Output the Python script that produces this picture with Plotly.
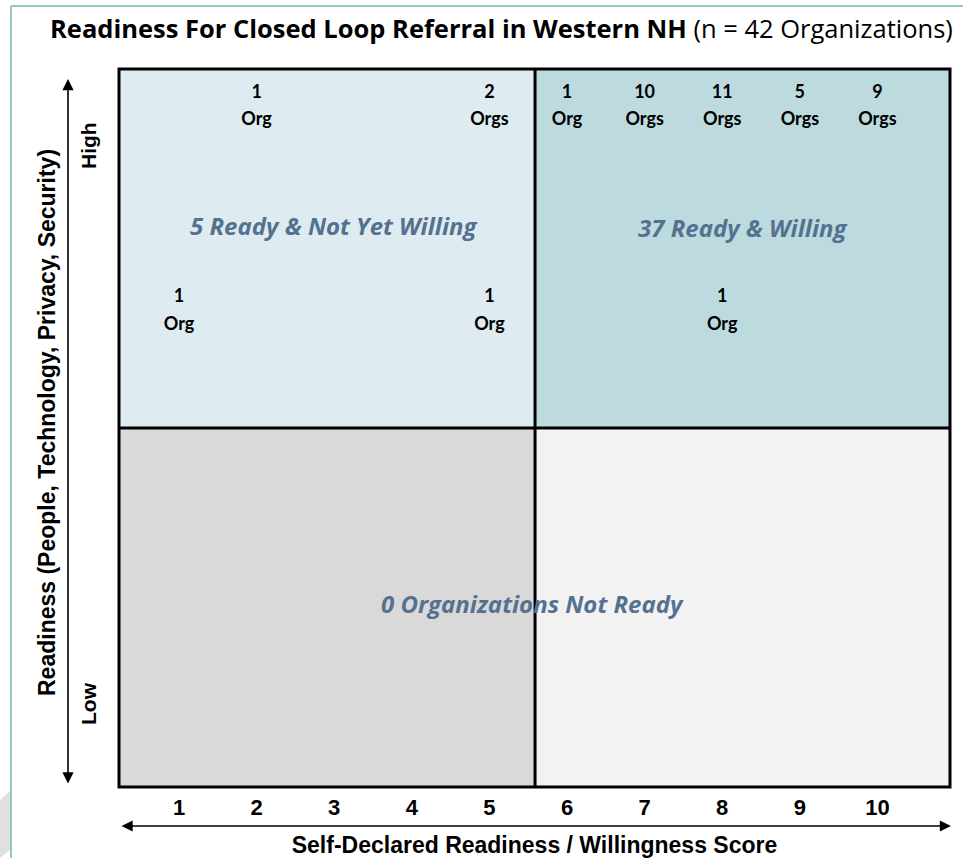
import plotly.graph_objects as go

# ---- data ----
scores = [1, 2, 3, 4, 5, 6, 7, 8, 9, 10]
tick_labels = [str(s) for s in scores]

high_scores = [2, 5, 6, 7, 8, 9, 10]
high_counts = [1, 2, 1, 10, 11, 5, 9]
high_readiness = [0.947, 0.947, 0.947, 0.947, 0.947, 0.947, 0.947]

mid_scores = [1, 5, 8]
mid_counts = [1, 1, 1]
mid_readiness = [0.662, 0.662, 0.662]

quadrant_labels = ["5 Ready & Not Yet Willing", "37 Ready & Willing", "0 Organizations Not Ready"]

# ---- geometry ----
X_MIN, X_MAX = 0.2268, 10.935
X_SPLIT = 5.588
Y_SPLIT = 0.5

all_scores = high_scores + mid_scores
all_counts = high_counts + mid_counts
all_ready = high_readiness + mid_readiness
unit_text = ["Org" if c == 1 else "Orgs" for c in all_counts]

LABEL_FONT = dict(family="Lato, Calibri, sans-serif", size=18, color="black")
ARIAL_B = "Arial, Liberation Sans, sans-serif"

fig = go.Figure()
fig.add_trace(go.Scatter(
    x=all_scores, y=all_ready, mode="markers+text",
    marker=dict(size=6, opacity=0),
    text=[f"<b>{c}</b>" for c in all_counts],
    textposition="top center", textfont=LABEL_FONT,
    hoverinfo="skip", showlegend=False))
fig.add_trace(go.Scatter(
    x=all_scores, y=all_ready, mode="markers+text",
    marker=dict(size=6, opacity=0),
    text=[f"<b>{u}</b>" for u in unit_text],
    textposition="bottom center", textfont=LABEL_FONT,
    hoverinfo="skip", showlegend=False))

quad_fill = [
    (X_MIN, X_SPLIT, Y_SPLIT, 1, "#deebf0"),
    (X_SPLIT, X_MAX, Y_SPLIT, 1, "#bddbde"),
    (X_MIN, X_SPLIT, 0, Y_SPLIT, "#d9d9d9"),
    (X_SPLIT, X_MAX, 0, Y_SPLIT, "#f2f2f2"),
]
shapes = []
for x0, x1, y0, y1, col in quad_fill:
    shapes.append(dict(type="rect", xref="x", yref="y", x0=x0, x1=x1, y0=y0, y1=y1,
                       fillcolor=col, line=dict(width=0), layer="below"))
# dividers
shapes.append(dict(type="line", xref="x", yref="y", x0=X_SPLIT, x1=X_SPLIT, y0=0, y1=1,
                   line=dict(color="black", width=3)))
shapes.append(dict(type="line", xref="x", yref="y", x0=X_MIN, x1=X_MAX, y0=Y_SPLIT, y1=Y_SPLIT,
                   line=dict(color="black", width=3)))
# border
shapes.append(dict(type="rect", xref="paper", yref="paper", x0=0, x1=1, y0=0, y1=1,
                   line=dict(color="black", width=3)))
# slide frame (green lines)
W, H, L, T, PW, PH = 963, 858, 119, 69, 831, 718
def px(xp): return (xp - L) / PW
def py(yp): return (T + PH - yp) / PH
shapes.append(dict(type="line", xref="paper", yref="paper", x0=px(11), x1=px(963), y0=py(6), y1=py(6),
                   line=dict(color="#6dbb9a", width=1.5)))
shapes.append(dict(type="line", xref="paper", yref="paper", x0=px(11), x1=px(11), y0=py(6), y1=py(858),
                   line=dict(color="#6dbb9a", width=1.5)))
shapes.append(dict(type="path", xref="paper", yref="paper",
                   path=f"M {px(0)},{py(800)} L {px(10)},{py(791)} L {px(10)},{py(850)} L {px(0)},{py(858)} Z",
                   fillcolor="#e0e0e0", line=dict(width=0)))

QFONT = dict(family="Open Sans, Calibri, sans-serif", size=24, color="#54718f")
annotations = [
    dict(text=f"<b><i>{quadrant_labels[0]}</i></b>", x=3.0, y=0.782, xref="x", yref="y",
         xanchor="center", yanchor="middle", showarrow=False, font=QFONT),
    dict(text=f"<b><i>{quadrant_labels[1]}</i></b>", x=(X_SPLIT + X_MAX) / 2, y=0.779, xref="x", yref="y",
         xanchor="center", yanchor="middle", showarrow=False, font=QFONT),
    dict(text=f"<b><i>{quadrant_labels[2]}</i></b>", x=X_SPLIT - 0.03, y=0.255, xref="x", yref="y",
         xanchor="center", yanchor="middle", showarrow=False, font=QFONT),
    # y axis labels
    dict(text="<b>Readiness (People, Technology, Privacy, Security)</b>", x=px(47), y=py(423),
         xref="paper", yref="paper", xanchor="center", yanchor="middle", showarrow=False, textangle=-90,
         font=dict(family=ARIAL_B, size=23, color="black")),
    dict(text="<b>High</b>", x=px(88), y=py(146), xref="paper", yref="paper",
         xanchor="center", yanchor="middle", showarrow=False,
         textangle=-90, font=dict(family=ARIAL_B, size=21, color="black")),
    dict(text="<b>Low</b>", x=px(88), y=py(704), xref="paper", yref="paper",
         xanchor="center", yanchor="middle", showarrow=False,
         textangle=-90, font=dict(family=ARIAL_B, size=21, color="black")),
    # vertical double arrow
    dict(text="", x=px(68), y=py(79), xref="paper", yref="paper", ax=0, ay=706,
         axref="pixel", ayref="pixel", showarrow=True, arrowhead=2, arrowside="end+start",
         arrowsize=1.4, arrowwidth=1.6, arrowcolor="black"),
    # horizontal double arrow
    dict(text="", x=px(951), y=py(826), xref="paper", yref="paper", ax=-831, ay=0,
         axref="pixel", ayref="pixel", showarrow=True, arrowhead=2, arrowside="end+start",
         arrowsize=1.4, arrowwidth=1.6, arrowcolor="black"),
]

fig.update_layout(
    width=W, height=H,
    margin=dict(l=L, r=W - L - PW, t=T, b=H - T - PH, autoexpand=False),
    paper_bgcolor="white", plot_bgcolor="white",
    showlegend=False,
    title=dict(text="<b>Readiness For Closed Loop Referral in Western NH</b> (n = 42 Organizations)",
               x=50 / W, xanchor="left", xref="container", y=1 - 29 / H, yref="container", yanchor="middle",
               font=dict(family="Open Sans, Calibri, sans-serif", size=25.5, color="black")),
    xaxis=dict(range=[X_MIN, X_MAX], tickvals=scores, ticktext=[f"<b>{t}</b>" for t in tick_labels],
               showgrid=False, zeroline=False, showline=False, ticks="outside", ticklen=1,
               tickcolor="rgba(0,0,0,0)", tickfont=dict(family=ARIAL_B, size=22, color="black"),
               title=dict(text="<b>Self-Declared Readiness / Willingness Score</b>", standoff=24,
                          font=dict(family=ARIAL_B, size=23, color="black")),
               automargin=False, fixedrange=True),
    yaxis=dict(range=[0, 1], showgrid=False, zeroline=False, showline=False, showticklabels=False,
               automargin=False, fixedrange=True),
    shapes=shapes,
    annotations=annotations,
)

fig.write_html("out.html", config={"displayModeBar": False},
               post_script="document.body.style.margin='0';")
